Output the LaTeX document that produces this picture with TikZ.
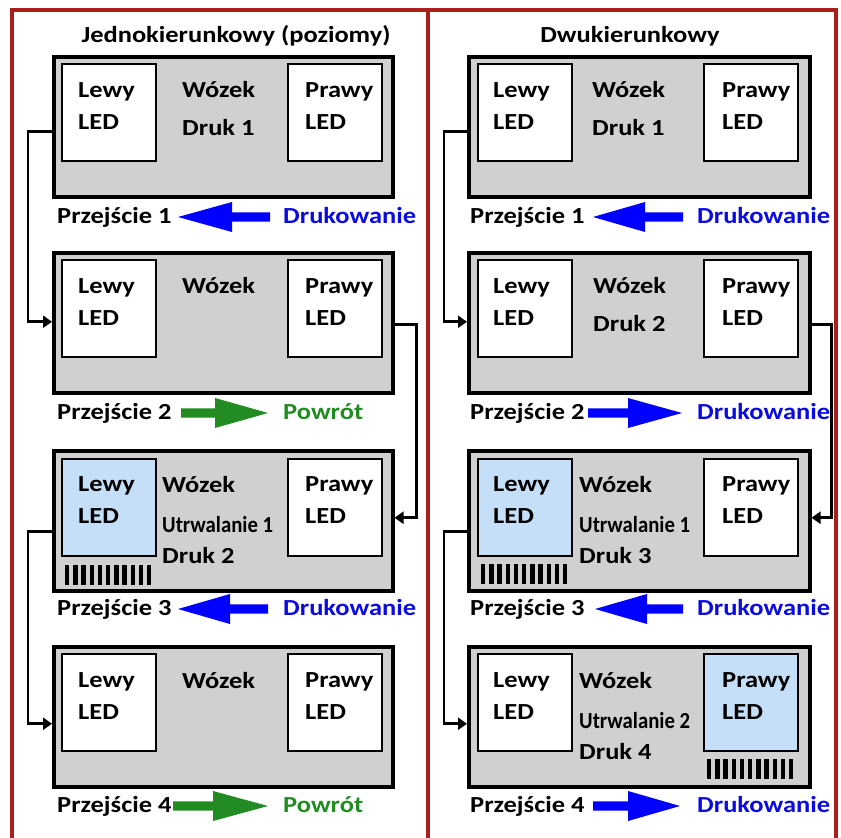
\documentclass[tikz,border=0pt]{standalone}
\usepackage{fontspec}
\setmainfont{Carlito}[FakeStretch=1.15]
\usetikzlibrary{arrows.meta}
\definecolor{frame}{RGB}{170,30,30}
\definecolor{boxgray}{RGB}{208,208,208}
\definecolor{ledblue}{RGB}{197,223,248}
\definecolor{arrblue}{RGB}{0,0,255}
\definecolor{txtblue}{RGB}{10,10,225}
\definecolor{arrgreen}{RGB}{34,139,34}
\newcommand{\fs}{\fontsize{23}{27}\selectfont\bfseries}
\newcommand{\Utr}[1]{\scalebox{0.785}[1]{#1}}
\newcommand{\Lar}[5]{\fill[#5] (#3,#4-4.7) -- (#2,#4-4.7) -- (#2,#4-15) -- (#1,#4) -- (#2,#4+15) -- (#2,#4+4.7) -- (#3,#4+4.7) -- cycle;}
\tikzset{
  txt/.style={anchor=base west, inner sep=0pt, font=\fs},
  ctxt/.style={anchor=base, inner sep=0pt, font=\fs},
  cart/.style={draw=black, line width=3.5pt, fill=boxgray, minimum width=339pt, minimum height=140pt, inner sep=0pt, anchor=north west},
  led/.style={draw=black, line width=2.2pt, fill=white, minimum width=94pt, minimum height=97pt, inner sep=0pt, anchor=north west},
  ledon/.style={led, fill=ledblue},
  conn/.style={draw=black, line width=2.6pt, -{Triangle[length=9pt,width=12pt]}},
}
\begin{document}
\begin{tikzpicture}[x=1pt,y=-1pt]
\useasboundingbox (0,0) rectangle (841,838);
% frames
\draw[frame, line width=4pt] (12,842) -- (12,10) -- (836,10) -- (836,842);
\draw[frame, line width=4pt] (428,10) -- (428,842);
% titles
\node[ctxt] (t1) at (236,42) {Jednokierunkowy (poziomy)};
\node[ctxt] (t2) at (630,42) {Dwukierunkowy};

% ================= LEFT PANEL =================
\foreach \n/\y in {1/55,2/251,3/449,4/645}{
  \node[cart] (A\n) at (52,\y) {};
}
\node[led] (AL1) at (61,63) {};
\node[led] (AP1) at (287,63) {};
\node[led] (AL2) at (61,259) {};
\node[led] (AP2) at (287,259) {};
\node[ledon] (AL3) at (61,458) {};
\node[led] (AP3) at (287,458) {};
\node[led] (AL4) at (61,653) {};
\node[led] (AP4) at (287,653) {};
\foreach \n/\y in {1/55,2/251,3/449,4/645}{
  \node[txt] (Alw\n) at (78,\y+42) {Lewy};
  \node[txt] (Ale\n) at (78,\y+74) {LED};
  \node[txt] (Apr\n) at (305,\y+42) {Prawy};
  \node[txt] (Ape\n) at (305,\y+74) {LED};
}
\node[txt] (Aw1) at (182,97) {Wózek};
\node[txt] (Ad1) at (182,135) {Druk 1};
\node[txt] (Aw2) at (182,293) {Wózek};
\node[txt] (Aw3) at (162,492) {Wózek};
\node[txt] (Au3) at (162,532) {\Utr{Utrwalanie 1}};
\node[txt] (Ad3) at (162,563) {Druk 2};
\node[txt] (Aw4) at (182,688) {Wózek};
\foreach \i in {0,...,10}{\fill (65+\i*8.2,565) rectangle ++(4.4,20);}
% transitions
\node[txt] (Ap1) at (57,223) {Przejście 1};
\node[txt,text=txtblue] (Ad1r) at (283,223) {Drukowanie};
\Lar{178}{232}{270}{217}{arrblue}
\node[txt] (Ap2) at (57,419) {Przejście 2};
\node[txt,text=arrgreen] (Ag2) at (283,419) {Powrót};
\Lar{268}{215}{181}{413}{arrgreen}
\node[txt] (Ap3) at (57,615) {Przejście 3};
\node[txt,text=txtblue] (Ad3r) at (283,615) {Drukowanie};
\Lar{178}{230}{268}{609}{arrblue}
\node[txt] (Ap4) at (57,812) {Przejście 4};
\node[txt,text=arrgreen] (Ag4) at (283,812) {Powrót};
\Lar{268}{213}{173}{806}{arrgreen}
% connectors
\draw[conn] ([yshift=-5pt]A1.west) -- ++(-24,0) |- ([yshift=1pt]A2.west);
\draw[conn] ([yshift=-2pt]A2.east) -- ++(22,0) |- ([yshift=3pt]A3.east);
\draw[conn] ([yshift=-11pt]A3.west) -- ++(-24,0) |- ([yshift=-7pt]A4.west);

% ================= RIGHT PANEL =================
\foreach \n/\y in {1/55,2/251,3/449,4/645}{
  \node[cart, minimum width=341pt] (B\n) at (467,\y) {};
}
\node[led] (BL1) at (477,63) {};
\node[led] (BP1) at (703,63) {};
\node[led] (BL2) at (477,259) {};
\node[led] (BP2) at (703,259) {};
\node[ledon] (BL3) at (477,458) {};
\node[led] (BP3) at (703,458) {};
\node[led] (BL4) at (477,653) {};
\node[ledon] (BP4) at (703,653) {};
\foreach \n/\y in {1/55,2/251,3/449,4/645}{
  \node[txt] (Blw\n) at (493,\y+42) {Lewy};
  \node[txt] (Ble\n) at (493,\y+74) {LED};
  \node[txt] (Bpr\n) at (722,\y+42) {Prawy};
  \node[txt] (Bpe\n) at (722,\y+74) {LED};
}
\node[txt] (Bw1) at (592,97) {Wózek};
\node[txt] (Bd1) at (592,135) {Druk 1};
\node[txt] (Bw2) at (593,293) {Wózek};
\node[txt] (Bd2) at (593,331) {Druk 2};
\node[txt] (Bw3) at (579,492) {Wózek};
\node[txt] (Bu3) at (579,532) {\Utr{Utrwalanie 1}};
\node[txt] (Bd3) at (579,563) {Druk 3};
\node[txt] (Bw4) at (579,688) {Wózek};
\node[txt] (Bu4) at (579,728) {\Utr{Utrwalanie 2}};
\node[txt] (Bd4) at (579,759) {Druk 4};
\foreach \i in {0,...,10}{\fill (481+\i*8.2,564) rectangle ++(4.4,20);}
\foreach \i in {0,...,10}{\fill (707+\i*8.2,759) rectangle ++(4.4,20);}
% transitions
\node[txt] (Bp1) at (470,223) {Przejście 1};
\node[txt,text=txtblue] (Bd1r) at (697,223) {Drukowanie};
\Lar{593}{645}{683}{217}{arrblue}
\node[txt] (Bp2) at (470,419) {Przejście 2};
\node[txt,text=txtblue] (Bd2r) at (697,419) {Drukowanie};
\Lar{682}{628}{588}{413}{arrblue}
\node[txt] (Bp3) at (470,615) {Przejście 3};
\node[txt,text=txtblue] (Bd3r) at (697,615) {Drukowanie};
\Lar{595}{647}{683}{609}{arrblue}
\node[txt] (Bp4) at (470,812) {Przejście 4};
\node[txt,text=txtblue] (Bd4r) at (697,812) {Drukowanie};
\Lar{680}{628}{593}{806}{arrblue}
% connectors
\draw[conn] ([yshift=-5pt]B1.west) -- ++(-23,0) |- ([yshift=1pt]B2.west);
\draw[conn] ([yshift=-2pt]B2.east) -- ++(20,0) |- ([yshift=3pt]B3.east);
\draw[conn] ([yshift=-11pt]B3.west) -- ++(-23,0) |- ([yshift=-7pt]B4.west);
\end{tikzpicture}
\end{document}
